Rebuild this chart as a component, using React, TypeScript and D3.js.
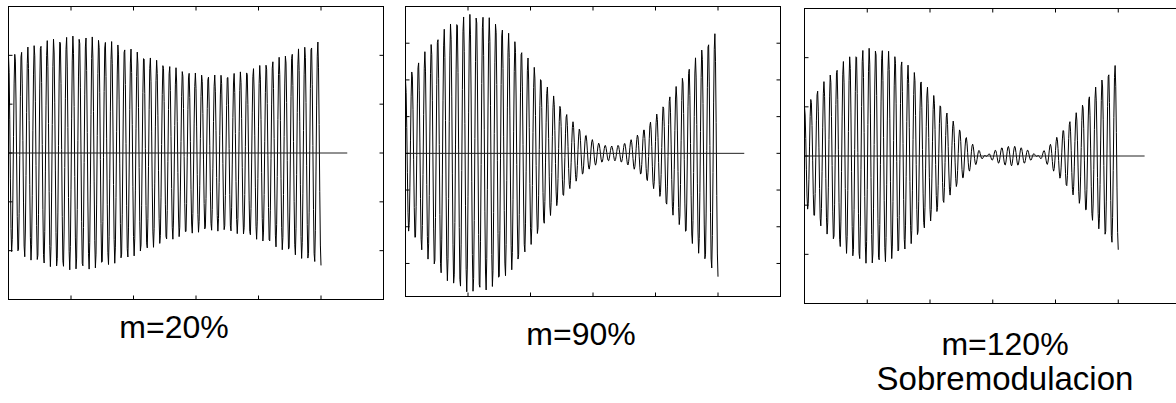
import React from "react";
import * as d3 from "d3";

// AM signal panels: s(t) = A (1 + m sin(2π t / Tm)) cos(2π fc t)
const labels = [["m=20%"], ["m=90%"], ["m=120%", "Sobremodulacion"]];
const modIndex = [0.2, 0.9, 1.2];
const carrierAmp = [2, 2, 1];
const yDomains = [[-3, 3], [-3.9, 4], [-3, 3]];
const yTickValues = [[-2, -1, 0, 1, 2], [-3, -2, -1, 0, 1, 2, 3], [-2, -1, 0, 1, 2]];
const xTickValues = [1, 2, 3, 4, 5];
const carrierFreq = 9.7; // cycles per x unit
const modPeriod = 4.4; // x units
const signalEnd = 5;
const baselineEnd = 5.42;

// panel frames (pixels)
const frames = [
  { x0: 8.5, x1: 383.5, y0: 6.5, y1: 299.5 },
  { x0: 405.5, x1: 780.5, y0: 6.5, y1: 296.5 },
  { x0: 804.5, x1: 1181, y0: 8.5, y1: 303.5 },
];
const labelPos = [
  { x: 174, y: [338] },
  { x: 581, y: [345] },
  { x: 1005, y: [355, 390] },
];

const Panel = ({ i }: { i: number }) => {
  const f = frames[i];
  const x = d3.scaleLinear().domain([0, 6]).range([f.x0, f.x1]);
  const y = d3.scaleLinear().domain(yDomains[i]).range([f.y1, f.y0]);
  const m = modIndex[i];
  const A = carrierAmp[i];
  const t = d3.range(0, signalEnd + 1e-9, 0.01);
  const pts: [number, number][] = t.map((tt) => [
    tt,
    A * (1 + m * Math.sin((2 * Math.PI * tt) / modPeriod)) * Math.cos(2 * Math.PI * carrierFreq * tt),
  ]);
  const line = d3
    .line<[number, number]>()
    .x((d) => x(d[0]))
    .y((d) => y(d[1]));
  const tl = 4;
  return (
    <g>
      <path d={line(pts) || ""} fill="none" stroke="#000" strokeWidth={1} />
      <line x1={x(0)} x2={x(baselineEnd)} y1={y(0)} y2={y(0)} stroke="#222" strokeWidth={1} />
      <rect x={f.x0} y={f.y0} width={f.x1 - f.x0} height={f.y1 - f.y0} fill="none" stroke="#000" strokeWidth={1} />
      {xTickValues.map((v) => (
        <g key={"x" + v}>
          <line x1={x(v)} x2={x(v)} y1={f.y0} y2={f.y0 + tl} stroke="#000" />
          <line x1={x(v)} x2={x(v)} y1={f.y1} y2={f.y1 - tl} stroke="#000" />
        </g>
      ))}
      {yTickValues[i].map((v) => (
        <g key={"y" + v}>
          <line x1={f.x0} x2={f.x0 + tl} y1={y(v)} y2={y(v)} stroke="#000" />
          <line x1={f.x1} x2={f.x1 - tl} y1={y(v)} y2={y(v)} stroke="#000" />
        </g>
      ))}
      {labels[i].map((s, k) => (
        <text
          key={s}
          x={labelPos[i].x}
          y={labelPos[i].y[k]}
          textAnchor="middle"
          fontFamily="Liberation Sans, Arial, sans-serif"
          fontSize={k === 1 ? 33 : 32}
          fill="#000"
        >
          {s}
        </text>
      ))}
    </g>
  );
};

export default function App() {
  return (
    <svg
      width={1176}
      height={403}
      style={{ position: "absolute", left: 0, top: 0, background: "#fff" }}
    >
      {frames.map((_, i) => (
        <Panel key={i} i={i} />
      ))}
    </svg>
  );
}
